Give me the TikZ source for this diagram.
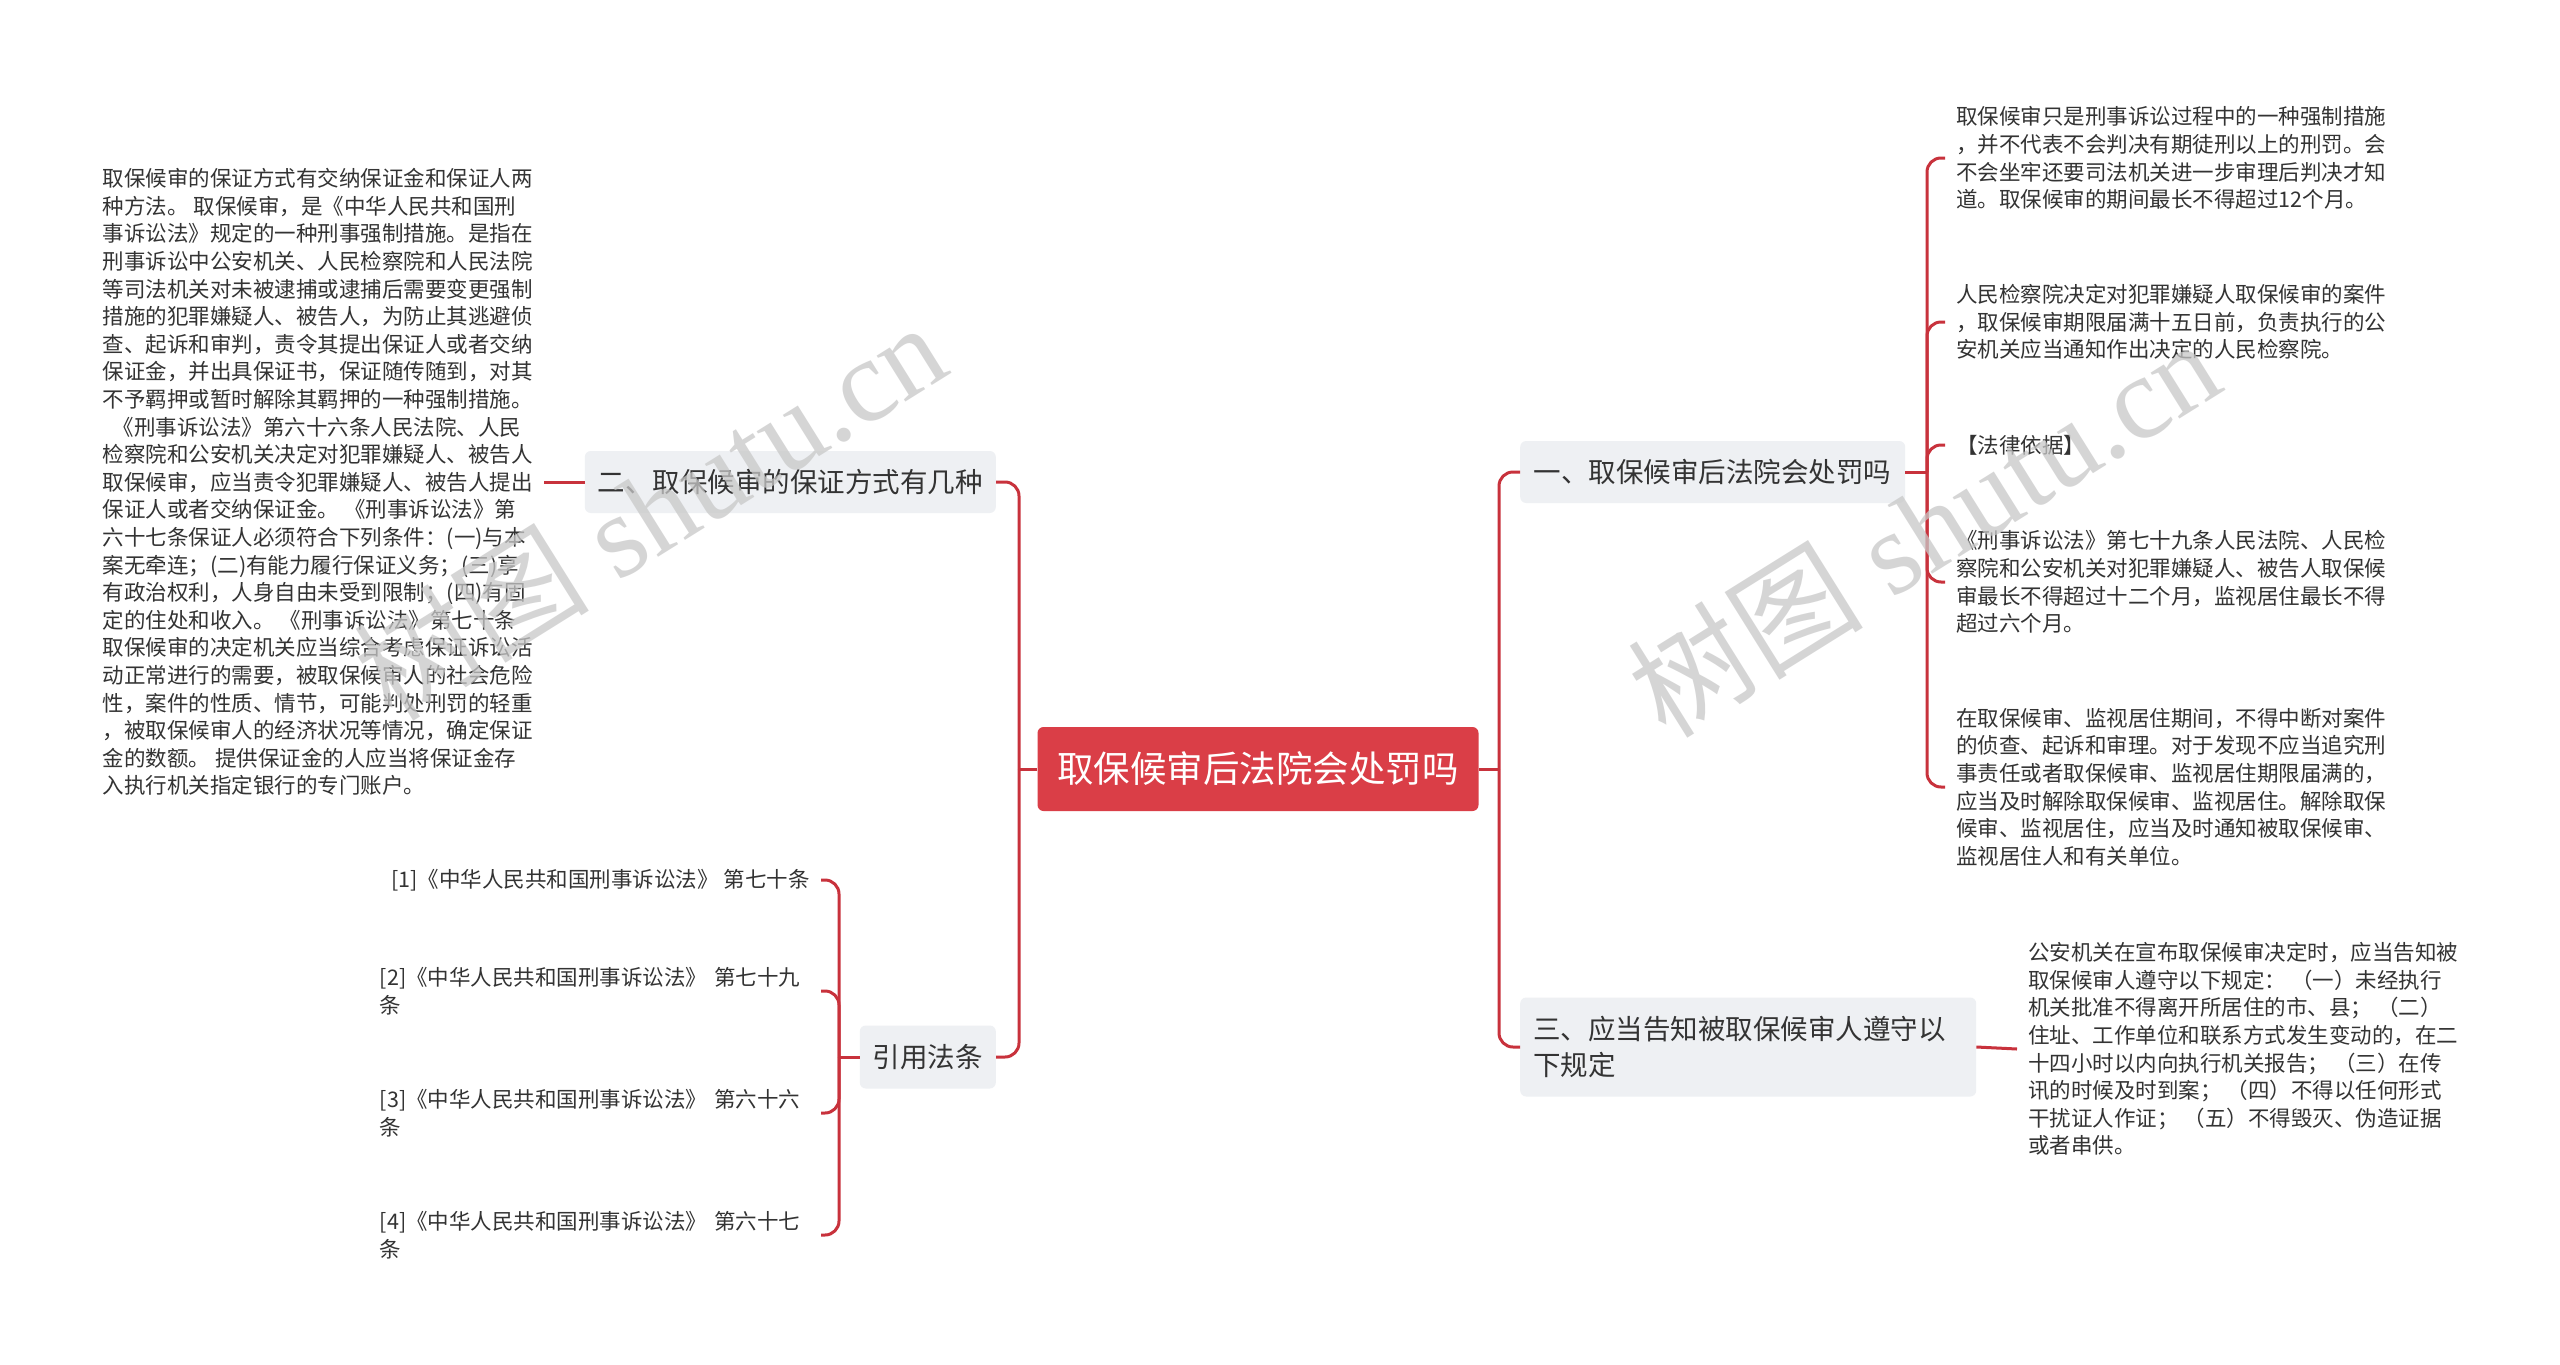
\documentclass[tikz,border=0pt]{standalone}
\usepackage{fontspec}
\setmainfont{Noto Sans CJK SC}
\newfontfamily\wmfont{Liberation Serif}
\newfontfamily\cjkfont{Noto Sans CJK SC}
\definecolor{linkred}{HTML}{C8323C}
\definecolor{rootred}{HTML}{DA3E47}
\definecolor{branchbg}{HTML}{EEF0F3}
\definecolor{txt}{HTML}{333333}
\definecolor{wmgray}{HTML}{C8C8C8}
\tikzset{
  rootnode/.style={rectangle, rounded corners=6pt, fill=rootred, text=white,
    font=\fontsize{36.5}{44}\selectfont, minimum width=441pt, minimum height=84pt, inner sep=0pt},
  branch/.style={rectangle, rounded corners=6pt, fill=branchbg, text=txt,
    font=\fontsize{27.5}{36}\selectfont, inner xsep=13pt, inner ysep=0pt, minimum height=62pt, align=left},
  leaf/.style={text=txt, font=\fontsize{21.5}{27.6}\selectfont, align=left, inner xsep=11pt, inner ysep=4pt},
  conn/.style={draw=linkred, line width=3pt},
  turn/.style={conn, rounded corners=14pt},
  wm/.style={rotate=32, text=wmgray, opacity=0.75, font=\wmfont\fontsize{118}{118}\selectfont}
}
\begin{document}
\begin{tikzpicture}[x=1pt,y=-1pt]
\useasboundingbox[fill=white] (0,0) rectangle (2560,1365);

% central
\node[rootnode] (root) at (1258,769) {取保候审后法院会处罚吗};

% branches
\node[branch, anchor=west, minimum width=385pt] (b1) at (1520,472) {一、取保候审后法院会处罚吗};
\node[branch, anchor=west, text width=430pt, minimum height=99pt, font=\fontsize{27.5}{36}\selectfont] (b3) at (1520,1047) {三、应当告知被取保候审人遵守以\\下规定};
\node[branch, anchor=east, minimum width=411pt] (b2) at (996,482) {二、取保候审的保证方式有几种};
\node[branch, anchor=east, minimum height=63pt] (b4) at (996,1057) {引用法条};

% junctions
\coordinate (jL) at (1019,769);
\coordinate (jR) at (1499,769);
\coordinate (j1) at (1927,472);
\coordinate (j4) at (839,1057);

% leaves of b1
\node[leaf, anchor=west] (r1) at (1945,158) {取保候审只是刑事诉讼过程中的一种强制措施\\，并不代表不会判决有期徒刑以上的刑罚。会\\不会坐牢还要司法机关进一步审理后判决才知\\道。取保候审的期间最长不得超过12个月。};
\node[leaf, anchor=west] (r2) at (1945,322) {人民检察院决定对犯罪嫌疑人取保候审的案件\\，取保候审期限届满十五日前，负责执行的公\\安机关应当通知作出决定的人民检察院。};
\node[leaf, anchor=west] (r3) at (1945,445) {【法律依据】};
\node[leaf, anchor=west] (r4) at (1945,582) {《刑事诉讼法》第七十九条人民法院、人民检\\察院和公安机关对犯罪嫌疑人、被告人取保候\\审最长不得超过十二个月，监视居住最长不得\\超过六个月。};
\node[leaf, anchor=west] (r5) at (1945,787) {在取保候审、监视居住期间，不得中断对案件\\的侦查、起诉和审理。对于发现不应当追究刑\\事责任或者取保候审、监视居住期限届满的，\\应当及时解除取保候审、监视居住。解除取保\\候审、监视居住，应当及时通知被取保候审、\\监视居住人和有关单位。};

% leaf of b3
\node[leaf, anchor=west] (l3) at (2017,1049) {公安机关在宣布取保候审决定时，应当告知被\\取保候审人遵守以下规定： （一）未经执行\\机关批准不得离开所居住的市、县； （二）\\住址、工作单位和联系方式发生变动的，在二\\十四小时以内向执行机关报告； （三）在传\\讯的时候及时到案； （四）不得以任何形式\\干扰证人作证； （五）不得毁灭、伪造证据\\或者串供。};

% leaf of b2
\node[leaf, anchor=east] (lt) at (544,482) {取保候审的保证方式有交纳保证金和保证人两\\种方法。 取保候审，是《中华人民共和国刑\\事诉讼法》规定的一种刑事强制措施。是指在\\刑事诉讼中公安机关、人民检察院和人民法院\\等司法机关对未被逮捕或逮捕后需要变更强制\\措施的犯罪嫌疑人、被告人，为防止其逃避侦\\查、起诉和审判，责令其提出保证人或者交纳\\保证金，并出具保证书，保证随传随到，对其\\不予羁押或暂时解除其羁押的一种强制措施。\\\hspace*{10pt}《刑事诉讼法》第六十六条人民法院、人民\\检察院和公安机关决定对犯罪嫌疑人、被告人\\取保候审，应当责令犯罪嫌疑人、被告人提出\\保证人或者交纳保证金。 《刑事诉讼法》第\\六十七条保证人必须符合下列条件：(一)与本\\案无牵连；(二)有能力履行保证义务；(三)享\\有政治权利，人身自由未受到限制；(四)有固\\定的住处和收入。 《刑事诉讼法》第七十条\\取保候审的决定机关应当综合考虑保证诉讼活\\动正常进行的需要，被取保候审人的社会危险\\性，案件的性质、情节，可能判处刑罚的轻重\\，被取保候审人的经济状况等情况，确定保证\\金的数额。 提供保证金的人应当将保证金存\\入执行机关指定银行的专门账户。};

% leaves of b4
\node[leaf, anchor=east] (c1) at (821,880) {[1]《中华人民共和国刑事诉讼法》 第七十条};
\node[leaf, anchor=east, text width=430pt] (c2) at (821,991) {[2]《中华人民共和国刑事诉讼法》 第七十九\\条};
\node[leaf, anchor=east, text width=430pt] (c3) at (821,1113) {[3]《中华人民共和国刑事诉讼法》 第六十六\\条};
\node[leaf, anchor=east, text width=430pt] (c4) at (821,1235) {[4]《中华人民共和国刑事诉讼法》 第六十七\\条};

% connectors
\draw[conn] (root.west) -- (jL);
\draw[turn] (jL) |- (b2.east);
\draw[turn] (jL) |- (b4.east);
\draw[conn] (root.east) -- (jR);
\draw[turn] (jR) |- (b1.west);
\draw[turn] (jR) |- (b3.west);
\draw[conn] (b1.east) -- (j1);
\foreach \n in {r1,r2,r3,r4,r5} \draw[turn] (j1) |- (\n.west);
\draw[conn] (b3.east) -- (l3.west);
\draw[conn] (b2.west) -- (lt.east);
\draw[conn] (b4.west) -- (j4);
\foreach \n in {c1,c2,c3,c4} \draw[turn] (j4) |- (\n.east);

% watermarks
\foreach \p in {(649,510),(1923,527)}
  \node[wm] at \p {{\cjkfont 树图} shutu.cn};
\end{tikzpicture}
\end{document}
